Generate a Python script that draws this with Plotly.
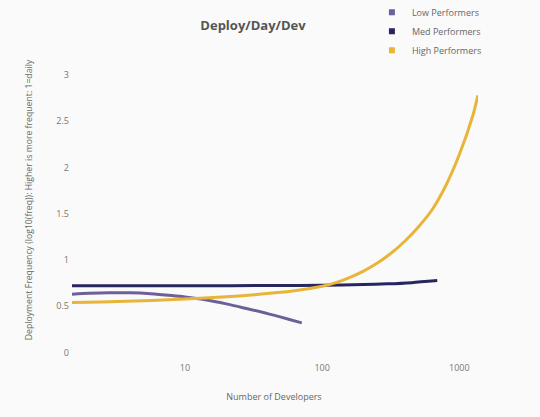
import plotly.graph_objects as go

# Data
low_x = [1.5, 2, 2.8, 4, 5.6, 8, 10, 14, 20, 28, 40, 56, 71]
low_y = [0.63, 0.64, 0.646, 0.645, 0.635, 0.615, 0.6, 0.57, 0.525, 0.475, 0.42, 0.362, 0.32]

med_x = [1.5, 10, 50, 100, 200, 300, 450, 690]
med_y = [0.72, 0.721, 0.724, 0.727, 0.735, 0.742, 0.755, 0.777]

high_x = [1.5, 3.2, 10, 32, 63, 100, 126, 158, 200, 251, 316, 398, 501, 631, 794, 1000, 1259, 1365]
high_y = [0.54, 0.55, 0.578, 0.625, 0.667, 0.715, 0.755, 0.81, 0.88, 0.965, 1.07, 1.2, 1.355, 1.54, 1.80, 2.14, 2.57, 2.78]

names = ["Low Performers", "Med Performers", "High Performers"]
colors = ["#6d6099", "#28265e", "#e8b53a"]

x_ticks = [10, 100, 1000]
y_ticks = [0, 0.5, 1, 1.5, 2, 2.5, 3]

BG = "#fafafa"
FONT = "Open Sans"

fig = go.Figure()
for xs, ys, name, col in zip([low_x, med_x, high_x], [low_y, med_y, high_y], names, colors):
    fig.add_trace(go.Scatter(x=xs, y=ys, mode="lines", name=name,
                             line=dict(color=col, width=3, shape="spline", smoothing=0.7),
                             showlegend=False))
for name, col in zip(names, colors):
    fig.add_trace(go.Scatter(x=[None], y=[None], mode="markers", name=name,
                             marker=dict(symbol="square", color=col, size=6)))

fig.update_layout(
    width=540, height=417,
    paper_bgcolor=BG, plot_bgcolor=BG,
    font=dict(family=FONT, color="#666", size=9),
    title=dict(text="<b>Deploy/Day/Dev</b>", x=0.4685, xanchor="center", y=0.94, yanchor="middle",
               font=dict(family=FONT, size=13, color="#555")),
    margin=dict(l=70, r=62, t=42, b=59, autoexpand=False),
    legend=dict(x=0.74, y=1.14, xanchor="left", yanchor="top",
                font=dict(size=9, color="#666"), bgcolor="rgba(0,0,0,0)"),
    xaxis=dict(type="log", range=[0.1615, 3.136], showgrid=False, zeroline=False,
               showline=False, tickvals=x_ticks, ticktext=[str(v) for v in x_ticks],
               tickfont=dict(size=9, color="#777"), automargin=False, ticklabelstandoff=3,
               title=dict(text="Number of Developers", font=dict(size=9, color="#666"), standoff=20)),
    yaxis=dict(range=[-0.06, 3.357], showgrid=False, zeroline=False, showline=False,
               tickvals=y_ticks, ticktext=[f"{v:g}" for v in y_ticks],
               tickfont=dict(size=9, color="#777"), ticks="", automargin=False,
               title=dict(text="Deployment Frequency (log10(freq)): Higher is more frequent: 1=daily",
                          font=dict(size=8.7, color="#666"), standoff=22)),
)

fig.write_html("out.html", config={"displayModeBar": False},
               post_script="document.body.style.margin='0';document.body.style.background='#fafafa';")
